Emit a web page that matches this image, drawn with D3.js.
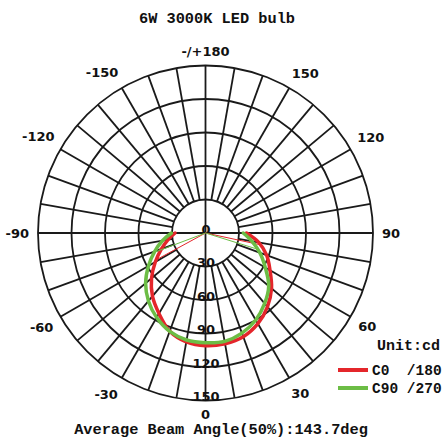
<!DOCTYPE html>
<html lang="en">
<head>
<meta charset="UTF-8">
<title>6W 3000K LED bulb</title>
<script src="https://d3js.org/d3.v7.min.js"></script>
<style>
    body { margin: 0; background: #fff; }
    svg { display: block; }
    .grid { fill: none; stroke: #1a1a1a; stroke-width: 1.8px; }
    .mono { font-family: "Liberation Mono", "DejaVu Sans Mono", monospace; font-weight: bold; fill: #111; }
    .tick { font-family: "DejaVu Sans", sans-serif; font-size: 13px; font-weight: bold; fill: #111; }
    .curve { fill: none; stroke-width: 3.5px; stroke-linejoin: round; stroke-linecap: round; }
</style>
</head>
<body>
<svg width="443" height="438"></svg>
<script>
// gamma angle in degrees, 0 = straight down, negative = left half
const gammaAngles = [-90, -80, -70, -60, -50, -40, -30, -20, -10, 0, 10, 20, 30, 40, 50, 60, 70, 80, 90];
// C180 on the left half, C0 on the right half (cd)
const c0c180 = [27.3, 34, 42.1, 51.9, 63.1, 73.9, 83.3, 93.6, 99, 101, 100.7, 98.9, 93.8, 86.3, 77.2, 66.7, 58.3, 48.4, 36.7];
// C270 on the left half, C90 on the right half (cd)
const c90c270 = [30.5, 39, 48.5, 59, 70, 79.5, 87.5, 93.8, 97.3, 98.2, 98.5, 95.4, 90, 82.4, 73.9, 61.8, 51.9, 42.1, 33.8];

const ringValues = [0, 30, 60, 90, 120, 150];
const angleTicks = [-150, -120, -90, -60, -30, 0, 30, 60, 90, 120, 150, 180];
const angleTickText = ["-150", "-120", "-90", "-60", "-30", "0", "30", "60", "90", "120", "150", "-/+180"];

const series = [
    { name: "C0  /180", values: c0c180, color: "#e4262b" },
    { name: "C90 /270", values: c90c270, color: "#6cbd45" }
];

const svg = d3.select("svg");
const cx = 205.5, cy = 233, R = 167.5;

const r = d3.scaleLinear().domain([0, 150]).range([0, R]);
const rad = d => d * Math.PI / 180;
// point for gamma angle a and radius rr
const px = (a, rr) => cx + rr * Math.sin(rad(a));
const py = (a, rr) => cy + rr * Math.cos(rad(a));

const g = svg.append("g");

// rings
g.selectAll("circle.ring")
    .data(ringValues.filter(v => v > 0))
    .enter().append("circle")
    .attr("class", "grid")
    .attr("cx", cx).attr("cy", cy)
    .attr("r", d => r(d));

// spokes every 10 deg, main axes go through the centre
const spokes = d3.range(0, 360, 10);
g.selectAll("line.spoke")
    .data(spokes)
    .enter().append("line")
    .attr("class", "grid")
    .attr("x1", d => px(d, d % 90 === 0 ? 0 : r(30)))
    .attr("y1", d => py(d, d % 90 === 0 ? 0 : r(30)))
    .attr("x2", d => px(d, R))
    .attr("y2", d => py(d, R));

// ring labels down the 0 axis
g.selectAll("text.ring")
    .data(ringValues)
    .enter().append("text")
    .attr("class", "tick")
    .attr("text-anchor", "middle")
    .attr("x", cx + 0.5)
    .attr("y", d => cy + r(d) + 0.5)
    .text(d => d);

// angle labels around the outside
// small hand nudges so the diagonal labels sit like the original
const nudgeX = { "-150": -9, "150": 6, "-30": -6, "30": 2 };
const nudgeY = { "-150": 3, "150": 3 };

const angleLabel = svg.selectAll("text.angle")
    .data(angleTicks)
    .enter().append("text")
    .attr("class", "tick")
    .attr("text-anchor", "middle")
    .attr("dominant-baseline", "central")
    .text((d, i) => angleTickText[i]);

angleLabel.each(function (d) {
    const w = this.getComputedTextLength() / 2;
    const off = R + 9 + w * Math.abs(Math.sin(rad(d))) + 5 * Math.abs(Math.cos(rad(d)));
    d3.select(this)
        .attr("x", px(d, off) + (nudgeX[d] || 0))
        .attr("y", py(d, off) + (nudgeY[d] || 0));
});

// curves
const line = d3.lineRadial()
    .angle(d => Math.PI - rad(d.a))
    .radius(d => r(d.v))
    .curve(d3.curveCatmullRom);

const curves = svg.append("g").attr("transform", `translate(${cx},${cy})`);

series.forEach(s => {
    const pts = gammaAngles.map((a, i) => ({ a: a, v: s.values[i] }));
    curves.append("path")
        .attr("class", "curve")
        .attr("stroke", s.color)
        .attr("d", line(pts));

    // 50% beam lines from the centre
    const half = d3.max(s.values) / 2;
    const sides = [pts.filter(p => p.a >= 0), pts.filter(p => p.a <= 0).reverse()];
    sides.forEach(side => {
        for (let i = 0; i < side.length - 1; i++) {
            const p0 = side[i], p1 = side[i + 1];
            if (p0.v >= half && p1.v < half) {
                const t = (p0.v - half) / (p0.v - p1.v);
                const a = p0.a + t * (p1.a - p0.a);
                curves.append("line")
                    .attr("x1", 0).attr("y1", 0)
                    .attr("x2", r(half) * Math.sin(rad(a)))
                    .attr("y2", r(half) * Math.cos(rad(a)))
                    .attr("stroke", s.color)
                    .attr("stroke-width", 1);
                break;
            }
        }
    });
});

// title and footer
svg.append("text")
    .attr("class", "mono")
    .attr("x", 217).attr("y", 23)
    .attr("text-anchor", "middle")
    .style("font-size", "15.3px")
    .text("6W 3000K LED bulb");

svg.append("text")
    .attr("class", "mono")
    .attr("x", 221).attr("y", 434)
    .attr("text-anchor", "middle")
    .style("font-size", "15.3px")
    .text("Average Beam Angle(50%):143.7deg");

// legend
svg.append("text")
    .attr("class", "mono")
    .attr("x", 377).attr("y", 350)
    .style("font-size", "15px")
    .text("Unit:cd");

const legend = svg.selectAll("g.legend")
    .data(series)
    .enter().append("g")
    .attr("transform", (d, i) => `translate(338, ${370 + i * 18})`);

legend.append("line")
    .attr("x1", 0).attr("x2", 30)
    .attr("stroke", d => d.color)
    .attr("stroke-width", 4);

legend.append("text")
    .attr("class", "mono")
    .attr("x", 34).attr("y", 5)
    .style("font-size", "14.5px")
    .style("white-space", "pre")
    .text(d => d.name);
</script>
</body>
</html>
